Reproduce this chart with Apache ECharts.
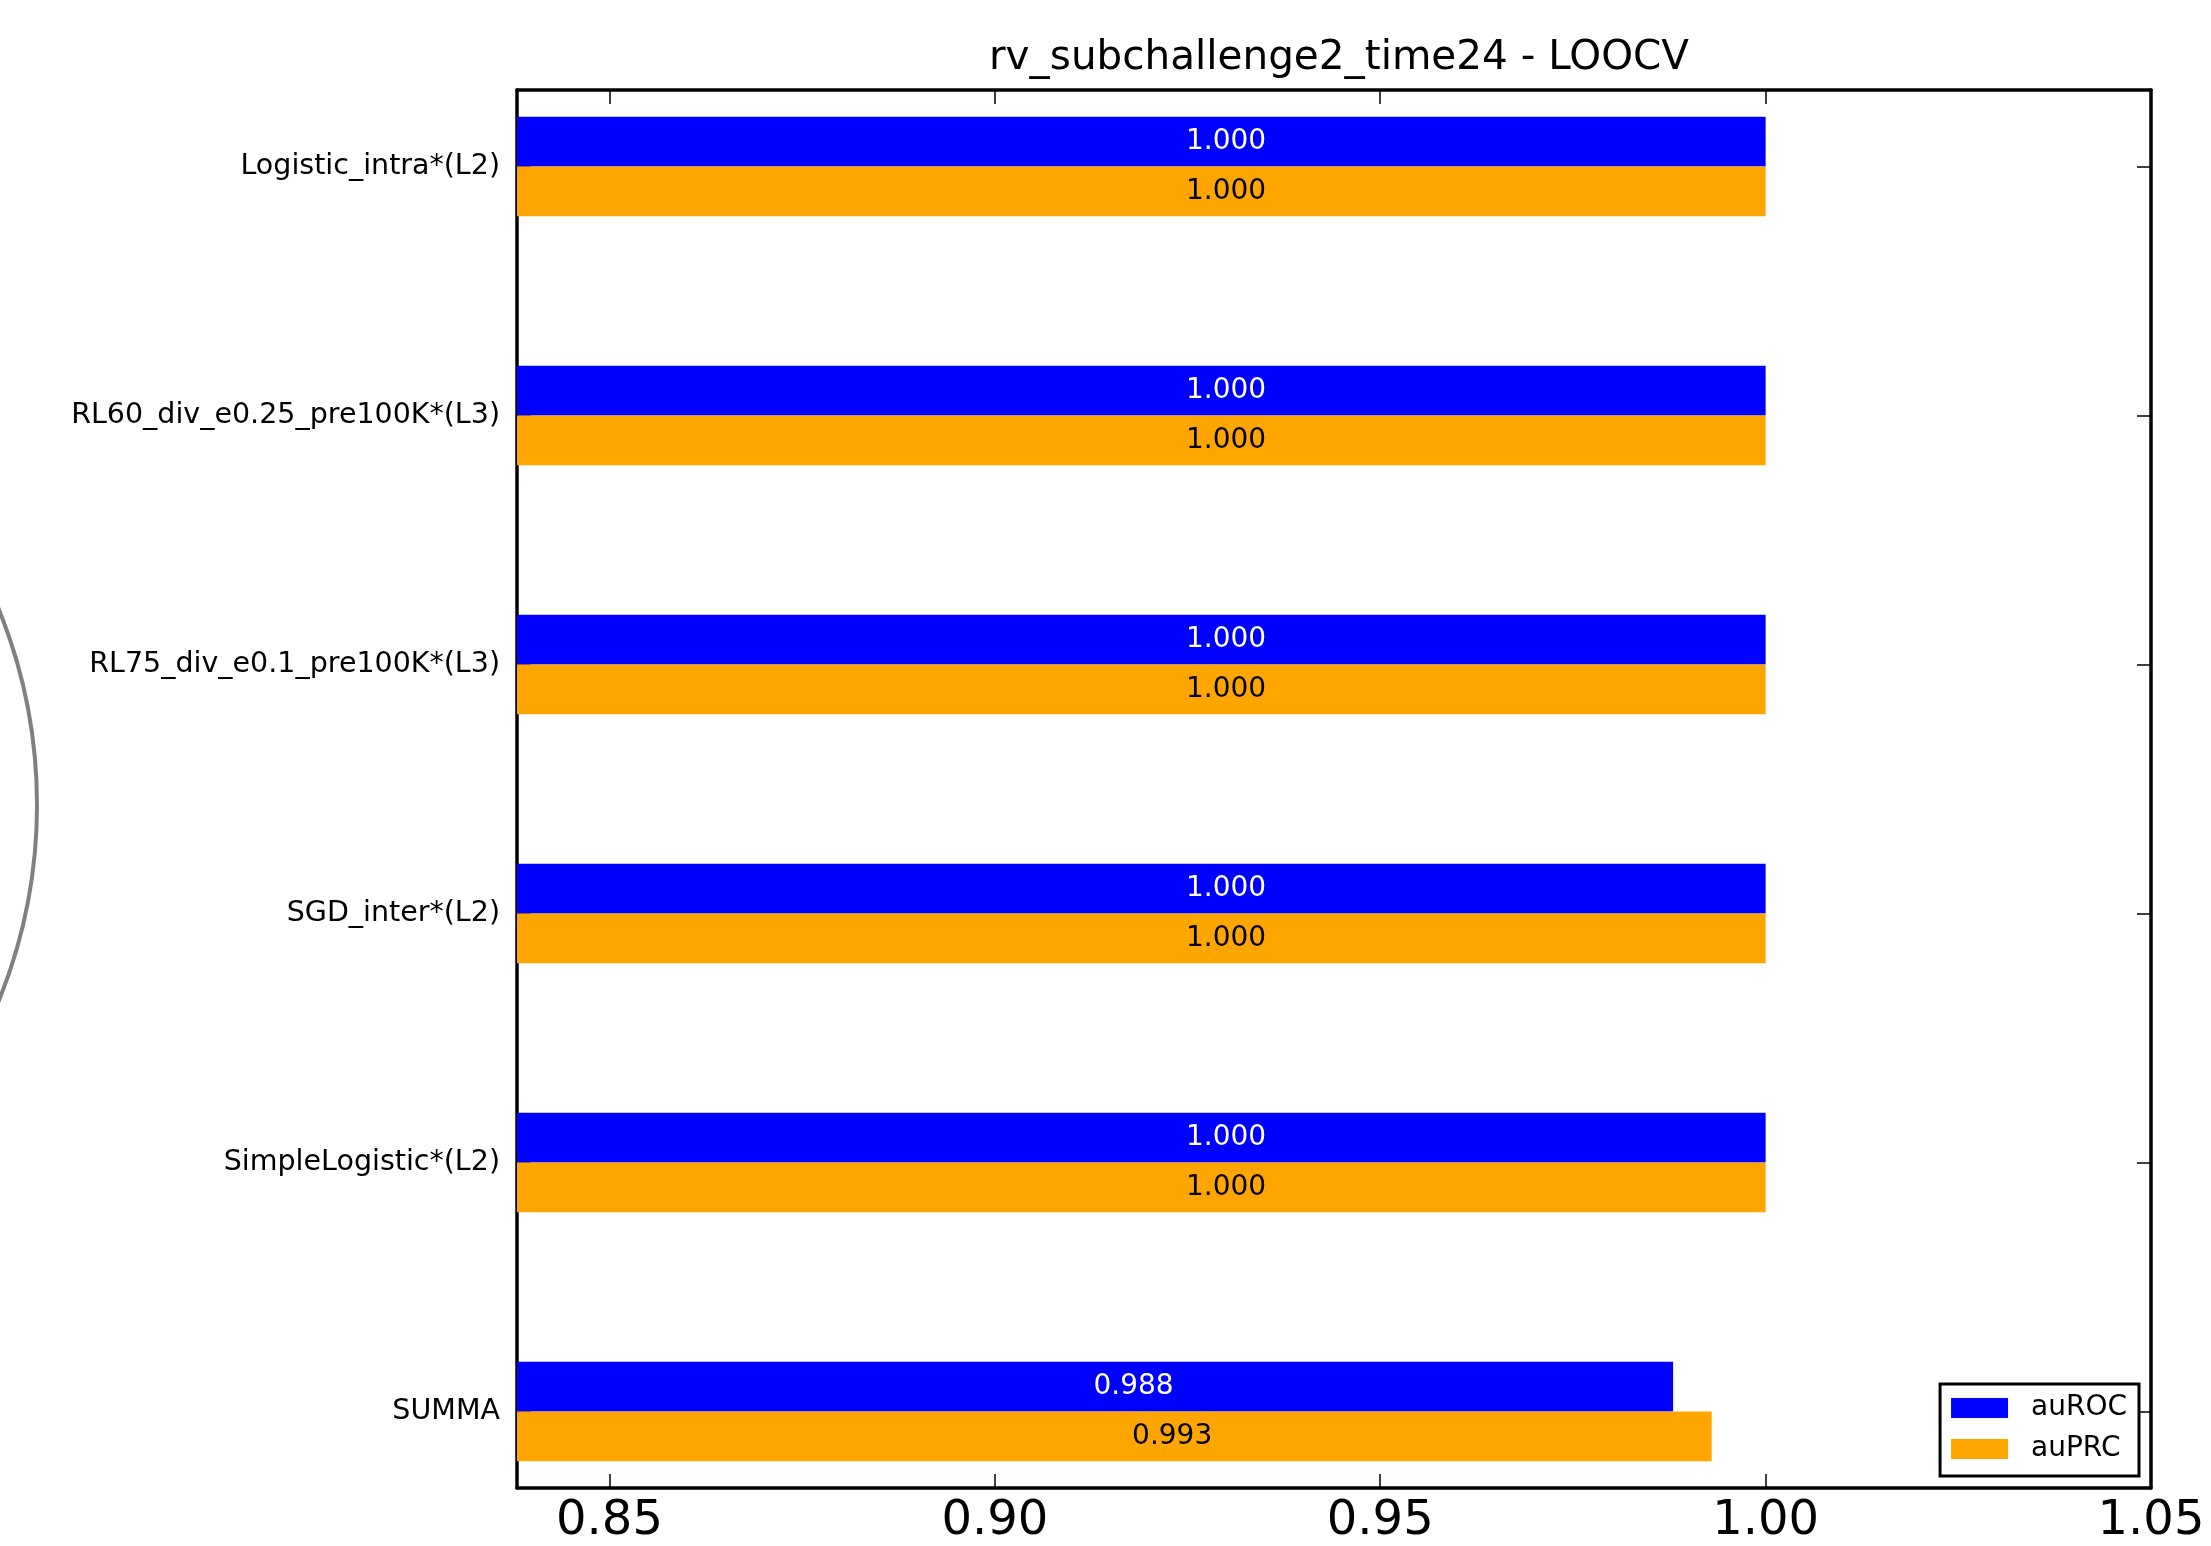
<!DOCTYPE html>
<html>
<head>
<meta charset="utf-8">
<title>rv_subchallenge2_time24 - LOOCV</title>
<script src="https://cdn.jsdelivr.net/npm/echarts@6/dist/echarts.min.js"></script>
<style>
  html, body { margin: 0; padding: 0; background: #ffffff; }
  #chart { width: 2211px; height: 1546px; }
</style>
</head>
<body>
<div id="chart"></div>
<script>
// Models, top to bottom
const categories = [
  'Logistic_intra*(L2)',
  'RL60_div_e0.25_pre100K*(L3)',
  'RL75_div_e0.1_pre100K*(L3)',
  'SGD_inter*(L2)',
  'SimpleLogistic*(L2)',
  'SUMMA'
];
const auROC = [1.000, 1.000, 1.000, 1.000, 1.000, 0.988];
const auPRC = [1.000, 1.000, 1.000, 1.000, 1.000, 0.993];
const xTickValues = [0.85, 0.90, 0.95, 1.00, 1.05];
const yTickValues = [0, 1, 2, 3, 4, 5];

const X_MIN = 0.838;
const X_MAX = 1.05;
const Y_MIN = -0.307;
const Y_MAX = 5.307;
const BAR_H = 0.2;        // bar thickness in category units
const LABEL_SHIFT = 0.07; // value labels sit this far left of the bar end

const FONT = 'DejaVu Sans';
const chart = echarts.init(document.getElementById('chart'), null, { renderer: 'canvas' });

// One horizontal bar per category; offset < 0 draws above the tick, > 0 below it
function barRenderer(values, offset, textColor) {
  return function (params, api) {
    const i = api.value(0);
    const v = api.value(1);
    const y0 = offset < 0 ? i - BAR_H : i;
    const y1 = offset < 0 ? i : i + BAR_H;
    const p0 = api.coord([X_MIN, y0]);
    const p1 = api.coord([v, y1]);
    const mid = api.coord([v - LABEL_SHIFT, (y0 + y1) / 2]);
    return {
      type: 'group',
      children: [
        {
          type: 'rect',
          shape: { x: p0[0], y: p0[1], width: p1[0] - p0[0], height: p1[1] - p0[1] },
          style: { fill: api.visual('color') }
        },
        {
          type: 'text',
          x: mid[0], y: mid[1],
          style: {
            text: v.toFixed(3),
            fill: textColor,
            font: '28px "' + FONT + '"',
            align: 'center',
            verticalAlign: 'middle'
          }
        }
      ]
    };
  };
}

const axisLineStyle = { show: true, onZero: false, lineStyle: { color: '#000', width: 3.5 } };
const tickStyle = { show: true, inside: true, length: 14, lineStyle: { color: '#000', width: 1.5 } };

const option = {
  backgroundColor: '#ffffff',
  animation: false,
  title: {
    text: 'rv_subchallenge2_time24 - LOOCV',
    left: 1334,
    textAlign: 'center',
    top: 33,
    textStyle: { fontFamily: FONT, fontSize: 40.5, fontWeight: 'normal', color: '#000' }
  },
  grid: { left: 517, right: 60, top: 90, bottom: 55, containLabel: false },
  legend: {
    orient: 'vertical',
    right: 72,
    bottom: 70,
    data: [
      { name: 'auROC', icon: 'rect' },
      { name: 'auPRC', icon: 'rect' }
    ],
    itemWidth: 57,
    itemHeight: 20,
    itemGap: 13,
    backgroundColor: '#fff',
    borderColor: '#000',
    borderWidth: 3,
    borderRadius: 0,
    padding: [10, 12, 13, 11],
    textStyle: { fontFamily: FONT, fontSize: 28, color: '#000', padding: [0, 0, 0, 18] }
  },
  xAxis: [
    {
      type: 'value', position: 'bottom', min: X_MIN, max: X_MAX,
      axisLine: axisLineStyle,
      axisTick: Object.assign({ customValues: xTickValues }, tickStyle),
      axisLabel: {
        customValues: xTickValues,
        margin: 10,
        fontFamily: FONT, fontSize: 48, color: '#000',
        formatter: v => v.toFixed(2)
      },
      splitLine: { show: false }
    },
    {
      type: 'value', position: 'top', min: X_MIN, max: X_MAX,
      axisLine: axisLineStyle,
      axisTick: Object.assign({ customValues: xTickValues }, tickStyle),
      axisLabel: { show: false },
      splitLine: { show: false }
    }
  ],
  yAxis: [
    {
      type: 'value', position: 'left', inverse: true, min: Y_MIN, max: Y_MAX,
      axisLine: axisLineStyle,
      axisTick: Object.assign({ customValues: yTickValues }, tickStyle),
      axisLabel: {
        customValues: yTickValues,
        margin: 17,
        fontFamily: FONT, fontSize: 28.5, color: '#000',
        formatter: v => categories[Math.round(v)] || ''
      },
      splitLine: { show: false }
    },
    {
      type: 'value', position: 'right', inverse: true, min: Y_MIN, max: Y_MAX,
      axisLine: axisLineStyle,
      axisTick: Object.assign({ customValues: yTickValues }, tickStyle),
      axisLabel: { show: false },
      splitLine: { show: false }
    }
  ],
  series: [
    {
      name: 'auROC',
      type: 'custom',
      xAxisIndex: 0, yAxisIndex: 0,
      itemStyle: { color: '#0000ff' },
      renderItem: barRenderer(auROC, -1, '#ffffff'),
      data: auROC.map((v, i) => [i, v]),
      encode: { x: 1, y: 0 },
      z: 2
    },
    {
      name: 'auPRC',
      type: 'custom',
      xAxisIndex: 0, yAxisIndex: 0,
      itemStyle: { color: '#ffa500' },
      renderItem: barRenderer(auPRC, 1, '#000000'),
      data: auPRC.map((v, i) => [i, v]),
      encode: { x: 1, y: 0 },
      z: 2
    }
  ],
  graphic: [
    {
      type: 'circle',
      shape: { cx: -484, cy: 805, r: 521 },
      style: { fill: 'none', stroke: '#808080', lineWidth: 4 },
      silent: true
    }
  ]
};

chart.setOption(option);
</script>
</body>
</html>
